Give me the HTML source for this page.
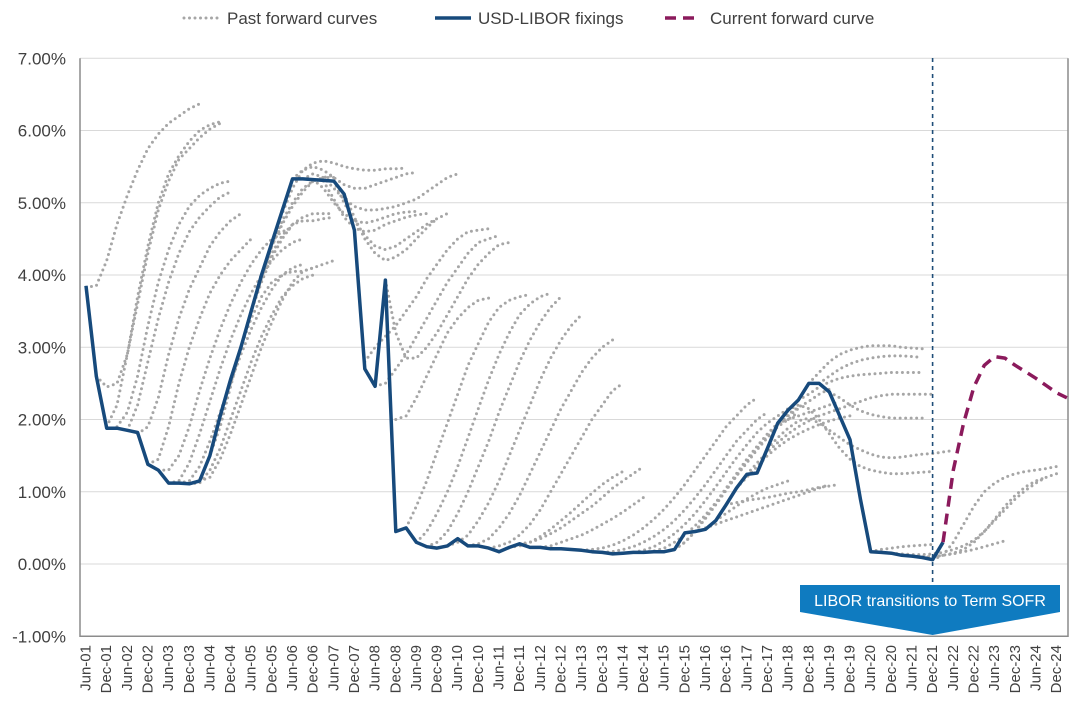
<!DOCTYPE html>
<html><head><meta charset="utf-8"><style>
body{margin:0;background:#fff;}
svg{display:block;font-family:"Liberation Sans",Arial,sans-serif;}
</style></head><body>
<svg id="chart" width="1078" height="720" viewBox="0 0 1078 720" xmlns="http://www.w3.org/2000/svg">
<g id="grid"></g>
<g id="yaxis"></g>
<g id="xaxis"></g>
<g id="curves"></g>
<line x1="932.6" y1="58" x2="932.6" y2="583" stroke="#1f4e79" stroke-width="1.6" stroke-dasharray="4 4"/>
<g id="series"></g>
<g>
<polygon points="800,585 1060,585 1060,612 932.6,635 800,612" fill="#0f7bc0"/>
<text x="930" y="606" text-anchor="middle" font-size="16" fill="#fff">LIBOR transitions to Term SOFR</text>
</g>
<g>
<line x1="184" y1="18" x2="220" y2="18" stroke="#a6a6a6" stroke-width="3" stroke-dasharray="0 5.5" stroke-linecap="round"/>
<text x="227" y="24" font-size="17" fill="#404040">Past forward curves</text>
<line x1="435" y1="18" x2="471" y2="18" stroke="#174a7c" stroke-width="3.5"/>
<text x="478" y="24" font-size="17" fill="#404040">USD-LIBOR fixings</text>
<line x1="665" y1="18" x2="701" y2="18" stroke="#8b1a5c" stroke-width="3.5" stroke-dasharray="11 7"/>
<text x="710" y="24" font-size="17" fill="#404040">Current forward curve</text>
</g>
</svg>
<script>
const yTicks = [-1,0,1,2,3,4,5,6,7];
const yTickLabels = ["-1.00%","0.00%","1.00%","2.00%","3.00%","4.00%","5.00%","6.00%","7.00%"];
const categories = [];
for (let yr = 1; yr <= 24; yr++) { const s = String(yr).padStart(2,'0'); categories.push("Jun-"+s, "Dec-"+s); }
// fixings at quarterly steps (index step 0.5, index 0 = Jun-01)
const fixings = [3.85,2.6,1.88,1.88,1.85,1.82,1.38,1.3,1.12,1.12,1.11,1.15,1.5,2.05,2.55,3.0,3.5,4.0,4.45,4.89,5.33,5.33,5.32,5.31,5.3,5.12,4.62,2.7,2.46,3.93,0.45,0.5,0.3,0.24,0.22,0.25,0.35,0.25,0.25,0.22,0.17,0.23,0.28,0.23,0.23,0.21,0.21,0.2,0.19,0.17,0.16,0.14,0.15,0.16,0.16,0.17,0.17,0.2,0.43,0.45,0.48,0.6,0.82,1.05,1.24,1.26,1.6,1.95,2.13,2.27,2.5,2.5,2.38,2.05,1.72,0.9,0.17,0.16,0.15,0.12,0.11,0.09,0.06,0.3];
const forwardStart = 41.5;
const forwardCurve = [0.3,1.3,1.95,2.45,2.75,2.87,2.85,2.75,2.66,2.57,2.47,2.37,2.3];
const pastStarts = [0,0.5,1,1.5,2,2.5,3,3.5,4,4.5,5,5.5,6,6.5,7,8,9,10,10.5,11,11.5,12,12.5,7.5,13.5,14,14.5,15,15.5,16,16.5,17.5,18.5,19.5,20.5,21,22,24,25,26,27,28,28.5,30,31,30.5,31.5,32,33,34,35,35.5,34.5,36,33.5,38,41,40,40.5,39];
const pastValues = [
[3.83,3.85,4.2,4.7,5.1,5.45,5.75,5.95,6.1,6.2,6.3,6.37],
[2.6,2.45,2.5,2.9,3.6,4.3,4.9,5.3,5.6,5.75,5.9,6.02,6.1],
[1.9,2.2,2.9,3.7,4.4,5.0,5.4,5.65,5.85,6.0,6.08,6.12],
[1.9,2.1,2.6,3.3,3.9,4.35,4.7,4.95,5.1,5.2,5.27,5.3],
[1.85,2.2,2.8,3.4,3.9,4.3,4.6,4.8,4.95,5.08,5.15],
[1.8,1.9,2.3,2.9,3.4,3.8,4.1,4.4,4.6,4.75,4.85],
[1.38,1.45,1.9,2.5,3.0,3.4,3.75,4.0,4.2,4.35,4.5],
[1.3,1.3,1.5,1.9,2.4,2.85,3.25,3.6,3.9,4.15,4.35,4.5,4.6,4.65],
[1.12,1.15,1.4,1.8,2.25,2.7,3.1,3.45,3.75,4.0,4.2,4.35,4.45,4.5],
[1.12,1.15,1.35,1.7,2.1,2.5,2.9,3.25,3.55,3.8,4.0,4.1,4.15],
[1.11,1.12,1.3,1.6,2.0,2.4,2.8,3.15,3.45,3.7,3.85,3.95,4.0],
[1.15,1.2,1.45,1.8,2.2,2.6,3.0,3.35,3.65,3.9,4.05,4.1],
[1.5,1.9,2.45,3.0,3.5,3.9,4.25,4.5,4.7,4.8,4.85,4.85,4.85],
[2.0,2.5,3.0,3.5,3.95,4.3,4.55,4.7,4.75,4.75,4.78,4.8],
[2.5,3.0,3.5,4.0,4.4,4.7,4.95,5.15,5.3,5.35,5.35],
[3.5,3.95,4.4,4.75,5.0,5.2,5.3,5.35,5.38],
[4.45,4.85,5.2,5.45,5.55,5.58,5.55,5.5,5.47,5.45,5.45,5.47,5.47,5.48],
[5.33,5.45,5.5,5.45,5.35,5.25,5.2,5.2,5.25,5.3,5.35,5.4,5.42],
[5.33,5.4,5.35,5.2,5.05,4.95,4.9,4.9,4.92,4.95,5.0,5.05,5.15,5.25,5.35,5.4],
[5.32,5.2,5.0,4.85,4.75,4.72,4.75,4.8,4.85,4.87,4.88],
[5.3,5.05,4.8,4.65,4.6,4.62,4.7,4.75,4.8,4.83,4.85],
[5.3,5.0,4.75,4.55,4.4,4.35,4.4,4.5,4.6,4.7,4.78,4.85],
[5.12,4.8,4.5,4.3,4.2,4.25,4.35,4.5,4.65,4.78],
[3.0,3.4,3.7,3.9,4.0,4.05,4.05,4.1,4.15,4.2],
[2.8,3.0,3.15,3.3,3.5,3.7,3.95,4.15,4.35,4.5,4.6,4.62,4.64],
[2.46,2.5,2.7,2.9,3.15,3.4,3.65,3.9,4.1,4.3,4.45,4.5,4.55],
[3.93,3.2,2.85,2.85,3.0,3.2,3.45,3.7,3.95,4.15,4.3,4.42,4.45],
[2.0,2.05,2.3,2.6,2.9,3.2,3.4,3.55,3.65,3.68],
[0.5,0.8,1.15,1.55,1.95,2.35,2.75,3.05,3.35,3.55,3.65,3.7,3.73],
[0.3,0.45,0.7,1.0,1.35,1.75,2.15,2.55,2.9,3.2,3.45,3.6,3.7,3.75],
[0.24,0.3,0.45,0.7,1.0,1.35,1.7,2.1,2.45,2.8,3.1,3.35,3.55,3.7],
[0.25,0.3,0.4,0.6,0.85,1.15,1.5,1.85,2.2,2.55,2.85,3.1,3.3,3.45],
[0.25,0.28,0.35,0.5,0.7,0.95,1.25,1.55,1.85,2.15,2.4,2.65,2.85,3.0,3.1],
[0.22,0.25,0.3,0.4,0.55,0.75,1.0,1.25,1.5,1.75,2.0,2.2,2.4,2.5],
[0.23,0.25,0.3,0.38,0.48,0.6,0.72,0.85,0.98,1.1,1.2,1.28],
[0.28,0.3,0.35,0.42,0.5,0.6,0.7,0.8,0.92,1.05,1.15,1.25,1.35],
[0.23,0.25,0.3,0.35,0.4,0.47,0.55,0.63,0.72,0.82,0.92],
[0.19,0.2,0.22,0.26,0.32,0.4,0.5,0.62,0.76,0.92,1.1,1.3,1.5,1.7,1.9,2.05,2.2,2.3],
[0.16,0.17,0.2,0.24,0.3,0.38,0.48,0.6,0.75,0.92,1.1,1.3,1.5,1.7,1.85,2.0,2.1],
[0.15,0.16,0.19,0.24,0.32,0.42,0.55,0.7,0.88,1.07,1.27,1.47,1.65,1.82,1.95,2.05,2.15],
[0.16,0.18,0.22,0.3,0.4,0.53,0.68,0.85,1.03,1.22,1.4,1.58,1.75,1.9,2.0,2.1],
[0.17,0.2,0.3,0.45,0.63,0.82,1.02,1.22,1.42,1.6,1.77,1.92,2.05,2.15],
[0.2,0.3,0.45,0.65,0.85,1.05,1.25,1.45,1.63,1.8,1.95,2.07,2.17,2.25,2.35,2.42],
[0.5,0.55,0.6,0.65,0.7,0.75,0.8,0.85,0.9,0.95,1.0,1.05,1.1],
[0.82,0.85,0.88,0.9,0.92,0.95,0.98,1.0,1.03,1.06,1.08,1.1],
[0.6,0.7,0.8,0.9,0.98,1.05,1.1,1.15],
[1.05,1.2,1.35,1.5,1.62,1.72,1.8,1.87,1.93,1.98,2.02,2.05],
[1.24,1.4,1.55,1.68,1.8,1.9,1.98,2.05,2.1,2.15,2.2,2.25,2.3,2.33,2.35,2.35,2.35,2.35,2.35],
[1.6,1.75,1.88,1.98,2.02,1.95,1.85,1.75,1.65,1.58,1.52,1.48,1.47,1.48,1.5,1.52,1.53,1.55,1.57],
[2.13,2.2,2.15,2.0,1.8,1.6,1.45,1.35,1.3,1.27,1.25,1.25,1.26,1.27,1.28],
[2.5,2.65,2.8,2.9,2.96,3.0,3.02,3.02,3.02,3.0,2.99,2.98],
[2.5,2.6,2.7,2.77,2.82,2.85,2.87,2.88,2.88,2.87,2.86],
[2.27,2.35,2.45,2.52,2.57,2.6,2.62,2.63,2.64,2.65,2.65,2.65,2.65],
[2.38,2.3,2.2,2.12,2.07,2.04,2.02,2.02,2.02,2.02],
[1.95,2.0,2.05,2.1,2.15,2.2,2.25],
[0.17,0.2,0.22,0.24,0.25,0.26,0.27],
[0.06,0.12,0.3,0.55,0.8,1.0,1.12,1.2,1.25,1.28,1.3,1.32,1.35],
[0.11,0.1,0.1,0.12,0.15,0.2,0.3,0.45,0.62,0.8,0.95,1.07,1.15,1.2],
[0.09,0.1,0.12,0.14,0.17,0.2,0.24,0.28,0.32],
[0.15,0.14,0.13,0.13,0.14,0.16,0.2,0.25,0.33,0.45,0.6,0.75,0.9,1.02,1.12,1.2,1.25]
];

const NS = "http://www.w3.org/2000/svg";
const xS = i => 86 + 20.65 * i;
const yS = v => 564 - 72.25 * v;
const PL = 80, PR = 1068;
function mk(tag, attrs, parent){ const e = document.createElementNS(NS, tag); for (const k in attrs) e.setAttribute(k, attrs[k]); parent.appendChild(e); return e; }
const grid = document.getElementById('grid'), yax = document.getElementById('yaxis'), xax = document.getElementById('xaxis');
const curvesG = document.getElementById('curves'), seriesG = document.getElementById('series');

yTicks.forEach((t, k) => {
  if (t > -1) {
    const g = mk('line', {x1:PL, x2:PR, y1:yS(t), y2:yS(t), stroke:'#d9d9d9', 'stroke-width':1}, grid);
    
    
  }
  const tx = mk('text', {x:66, y:yS(t)+6, 'text-anchor':'end', 'font-size':17, fill:'#404040'}, yax);
  tx.textContent = yTickLabels[k];
  
  
});
const frame = mk('path', {d:`M${PL},${yS(7)} V${yS(-1)} H${PR} V${yS(7)}`, fill:'none', stroke:'#8c8c8c', 'stroke-width':1.5}, yax);



categories.forEach((c, i) => {
  const x = xS(i), y = 645;
  const tx = mk('text', {x:x, y:y, transform:`rotate(-90 ${x} ${y})`, 'text-anchor':'end', 'dominant-baseline':'central', 'font-size':15, fill:'#404040'}, xax);
  tx.textContent = c;
  
  
});

function pts(start, vals){ return vals.map((v, k) => `${xS(start + k*0.5).toFixed(1)},${yS(v).toFixed(1)}`).join(' '); }

pastValues.forEach((vals, n) => {
  const p = mk('polyline', {points:pts(pastStarts[n], vals), fill:'none', stroke:'#a6a6a6', 'stroke-width':3, 'stroke-dasharray':'0 5.5', 'stroke-linecap':'round', 'stroke-linejoin':'round'}, curvesG);
  
  
});

const fx = mk('polyline', {points:pts(0, fixings), fill:'none', stroke:'#174a7c', 'stroke-width':3.5, 'stroke-linejoin':'round'}, seriesG);


const fw = mk('polyline', {points:pts(forwardStart, forwardCurve), fill:'none', stroke:'#8b1a5c', 'stroke-width':3.5, 'stroke-dasharray':'11 7', 'stroke-linejoin':'round'}, seriesG);


</script>
</body></html>
